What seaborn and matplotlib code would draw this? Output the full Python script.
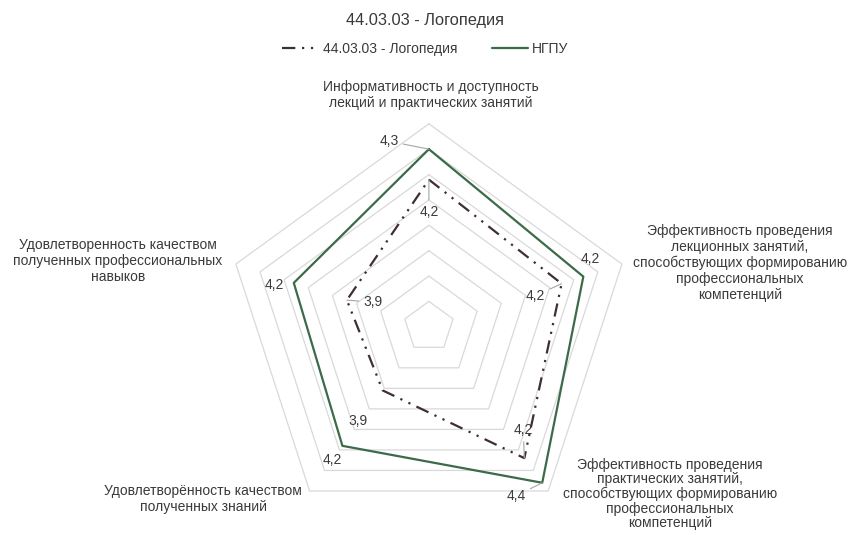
import numpy as np
import pandas as pd
import seaborn as sns
import matplotlib.pyplot as plt
from matplotlib.lines import Line2D

# Data
categories = [
    'Информативность и доступность\nлекций и практических занятий',
    'Эффективность проведения\nлекционных занятий,\nспособствующих формированию\nпрофессиональных\nкомпетенций',
    'Эффективность проведения\nпрактических занятий,\nспособствующих формированию\nпрофессиональных\nкомпетенций',
    'Удовлетворённость качеством\nполученных знаний',
    'Удовлетворенность качеством\nполученных профессиональных\nнавыков',
]
program_values = [4.18, 4.15, 4.24, 3.91, 3.94]
ngpu_values = [4.30, 4.24, 4.36, 4.18, 4.16]
series_names = ['44.03.03 - Логопедия', 'НГПУ']
title = '44.03.03 - Логопедия'
r_min, r_max, r_step = 3.6, 4.4, 0.1

sns.set_theme(style='white')
plt.rcParams['font.family'] = ['Liberation Sans', 'DejaVu Sans']
text_color = '#3a3a3a'
prog_color = '#3f2e33'
ngpu_color = '#3b6b49'
grid_color = '#d9d9d9'

fig = plt.figure(figsize=(8.51, 5.35), dpi=100)
ax = fig.add_axes([0.2655, 0.0097, 0.477, 0.759], projection='polar')
ax.set_theta_offset(np.pi / 2)
ax.set_theta_direction(-1)
ax.set_ylim(r_min, r_max)
ax.set_xticks([])
ax.set_yticks([])
ax.grid(False)
ax.spines['polar'].set_visible(False)
ax.patch.set_alpha(0)

n = len(categories)
theta = np.linspace(0, 2 * np.pi, n + 1)

# pentagon grid
for r in np.arange(r_min + r_step, r_max + r_step / 2, r_step):
    ax.plot(theta, [r] * (n + 1), color=grid_color, lw=0.9, clip_on=False, zorder=1)

def closed(vals):
    return pd.DataFrame({'theta': theta, 'value': list(vals) + [vals[0]]})

sns.lineplot(data=closed(program_values), x='theta', y='value', ax=ax, sort=False,
             estimator=None, color=prog_color, lw=1.6, clip_on=False, zorder=3,
             linestyle=(0, (6, 3, 1, 3, 1, 3)))
sns.lineplot(data=closed(ngpu_values), x='theta', y='value', ax=ax, sort=False,
             estimator=None, color=ngpu_color, lw=1.6, clip_on=False, zorder=3)
ax.set_xlabel('')
ax.set_ylabel('')

def fmt(v):
    return f'{v:.1f}'.replace('.', ',')

leader = dict(arrowstyle='-', color='#a6a6a6', lw=0.8, shrinkA=1, shrinkB=0)
# (offset in pixels, leader line?)
prog_offsets = [((0, -32), True), ((-26, -12), True), ((-1, 28), True),
                ((-25, -31), False), ((26, -2), True)]
ngpu_offsets = [((-40, 8), True), ((7, 18), False), ((-26, -13), True),
                ((-10, -14), False), ((-19, -2), False)]

for vals, offs in [(program_values, prog_offsets), (ngpu_values, ngpu_offsets)]:
    for i, v in enumerate(vals):
        (dx, dy), has_line = offs[i]
        ax.annotate(fmt(v), xy=(theta[i], v), xytext=(dx, dy), textcoords='offset pixels',
                    ha='center', va='center', fontsize=10, color=text_color,
                    arrowprops=leader if has_line else None, zorder=4,
                    annotation_clip=False)

# category labels (pixel centres in an 851x535 figure)
label_pos = [(431, 95), (740, 263), (670, 494), (203, 499), (118, 261)]
W, H = 851, 535
for i, (lab, (px, py)) in enumerate(zip(categories, label_pos)):
    fig.text(px / W, 1 - py / H, lab, ha='center', va='center', fontsize=10,
             color=text_color, linespacing=1.05 if i == 2 else 1.15)

fig.text(0.5, 1 - 20 / H, title, ha='center', va='center', fontsize=11.8, color=text_color)

handles = [Line2D([], [], color=prog_color, lw=1.6, linestyle=(0, (6, 3, 1, 3, 1, 3))),
           Line2D([], [], color=ngpu_color, lw=1.6)]
leg = fig.legend(handles, series_names, loc='center', bbox_to_anchor=(0.5, 1 - 49 / H),
                 ncol=2, frameon=False, fontsize=10, handlelength=2.6, handletextpad=0.3,
                 columnspacing=2.5)
for t in leg.get_texts():
    t.set_color(text_color)

fig.savefig('out.png', dpi=100, facecolor='white')
